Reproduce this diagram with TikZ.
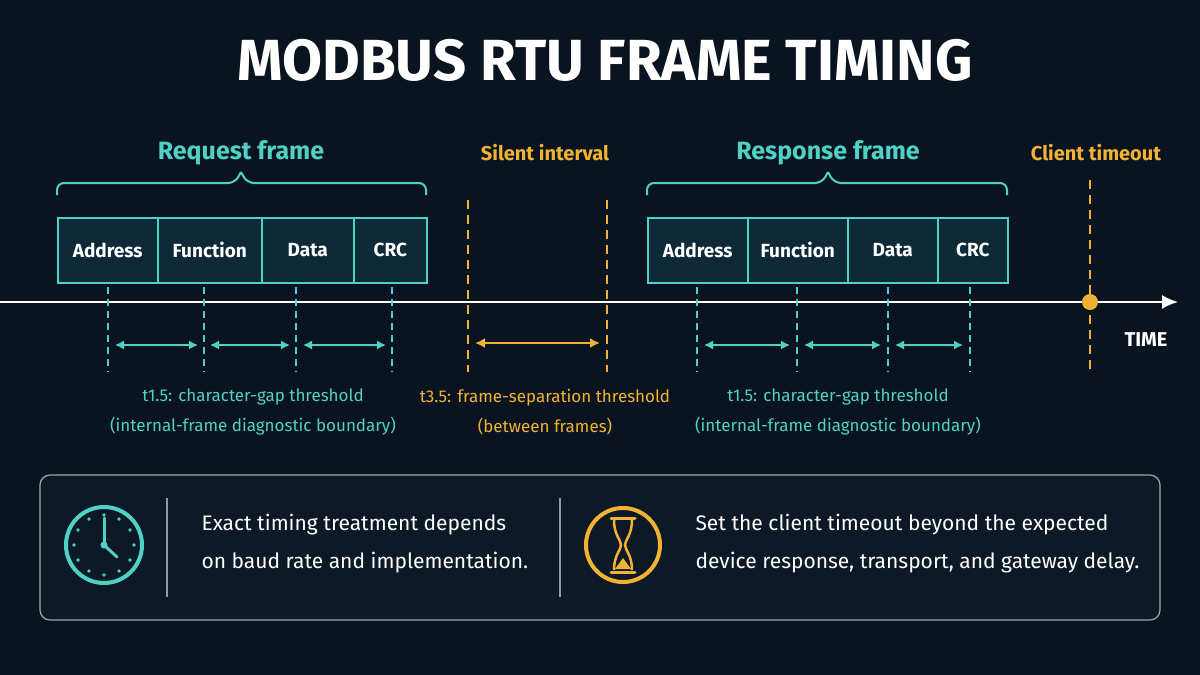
\documentclass[tikz,border=0pt]{standalone}
\usepackage{fontspec}
\setmainfont{Fira Sans}
\usetikzlibrary{arrows.meta}
\definecolor{bg}{HTML}{0A1420}
\definecolor{teal}{HTML}{4FD1C5}
\definecolor{org}{HTML}{F2B233}
\definecolor{boxf}{HTML}{0E2A38}
\definecolor{panel}{HTML}{0D1926}
\begin{document}
\begin{tikzpicture}[x=1pt,y=-1pt,
  fld/.style={draw=teal,line width=1.5pt,fill=boxf,minimum height=65pt,inner sep=0,text=white,font=\fontsize{19}{22}\selectfont\bfseries},
  lbl/.style={font=\fontsize{25}{28}\selectfont\bfseries},
  note/.style={font=\fontsize{17}{30}\selectfont},
  tdash/.style={draw=teal,line width=1.2pt,dash pattern=on 7pt off 5pt},
  odash/.style={draw=org,line width=2pt,dash pattern=on 9pt off 6pt},
  tarr/.style={teal,line width=1.5pt,{Latex[length=9pt,width=9pt]}-{Latex[length=9pt,width=9pt]}},
  body/.style={font=\fontsize{21}{38}\selectfont,text=white,align=left,anchor=west}]
\fill[bg] (0,0) rectangle (1200,675);
\useasboundingbox (0,0) rectangle (1200,675);
\node[text=white,font=\fontsize{58}{64}\selectfont\bfseries] (title) at (605,60) {MODBUS RTU FRAME TIMING};
% timeline
\coordinate (tl0) at (0,302); \coordinate (tl1) at (1178,302);
\draw[white,line width=2pt,-{Latex[length=16pt,width=14pt]}] (tl0) -- (tl1);
\node[text=white,font=\fontsize{20}{24}\selectfont\bfseries] (time) at (1146,340) {TIME};
% frames
\foreach \n/\a/\b/\t in {ra/57/157/Address,rf/157/261/Function,rd/261/353/Data,rc/353/426/CRC,
                         sa/647/747/Address,sf/747/847/Function,sd/847/937/Data,sc/937/1007/CRC}{
  \node[fld,minimum width={\b-\a},anchor=north west] (\n) at (\a,217) {\t};
}
\foreach \l/\r/\x in {57/426/241,647/1007/828}{
  \draw[teal,line width=2pt,rounded corners=7pt] (\l,195) -- (\l,183) -- (\x-6,183) -- (\x,172);
  \draw[teal,line width=2pt,rounded corners=7pt] (\r,195) -- (\r,183) -- (\x+6,183) -- (\x,172);
}
\node[lbl,text=teal] (reql) at (241,153) {Request frame};
\node[lbl,text=teal] (respl) at (828,153) {Response frame};
\node[font=\fontsize{20}{24}\selectfont\bfseries,text=org] (sil) at (545,153) {Silent interval};
\node[font=\fontsize{20}{24}\selectfont\bfseries,text=org] (cto) at (1096,153) {Client timeout};
% dashed teal
\foreach \x in {108,204,296,392,697,797,888,970}{\draw[tdash] (\x,287) -- (\x,372);}
\foreach \a/\b in {115/198,210/290,303/386,704/790,804/881,895/963}{
  \coordinate (p\a) at (\a,345); \coordinate (q\a) at (\b,345);
  \draw[tarr] (p\a) -- (q\a);}
% orange
\draw[odash] (468,200) -- (468,372);
\draw[odash] (607,200) -- (607,372);
\coordinate (oa) at (475,343); \coordinate (ob) at (600,343);
\draw[org,line width=2pt,{Latex[length=10pt,width=10pt]}-{Latex[length=10pt,width=10pt]}] (oa) -- (ob);
\draw[odash] (1090,180) -- (1090,372);
\fill[org] (1090,302) circle (8);
% notes
\node[note,text=teal,align=center] (n1) at (253,412) {t1.5: character-gap threshold\\(internal-frame diagnostic boundary)};
\node[note,text=org,align=center] (n2) at (545,412) {t3.5: frame-separation threshold\\(between frames)};
\node[note,text=teal,align=center] (n3) at (838,412) {t1.5: character-gap threshold\\(internal-frame diagnostic boundary)};
% panel
\draw[fill=panel,draw=gray!70,line width=1.2pt,rounded corners=10pt] (40,475) rectangle (1160,620);
\draw[gray!80,line width=1.2pt] (167,498) -- (167,597);
\draw[gray!80,line width=1.2pt] (560,498) -- (560,597);
% clock
\draw[teal,line width=4pt] (104,545) circle (38);
\foreach \a in {0,30,...,330}{\fill[teal] ({104+30*cos(\a)},{545+30*sin(\a)}) circle (1.8);}
\draw[teal,line width=3pt,line cap=round] (104,545) -- (104,518);
\draw[teal,line width=3pt,line cap=round] (104,545) -- (117,557);
\fill[teal] (104,545) circle (3.5);
% hourglass
\draw[org,line width=4pt] (623,545) circle (37);
\draw[org,line width=3pt,line cap=round] (611,518) -- (635,518);
\draw[org,line width=3pt,line cap=round] (611,572) -- (635,572);
\draw[org,line width=2.5pt] (614,520) .. controls (614,535) and (621,540) .. (621,545) .. controls (621,550) and (614,555) .. (614,570);
\draw[org,line width=2.5pt] (632,520) .. controls (632,535) and (625,540) .. (625,545) .. controls (625,550) and (632,555) .. (632,570);
\fill[org] (623,558) -- (631,569) -- (615,569) -- cycle;
\node[body] (t1) at (198,544) {Exact timing treatment depends\\on baud rate and implementation.};
\node[body] (t2) at (692,544) {Set the client timeout beyond the expected\\device response, transport, and gateway delay.};
\end{tikzpicture}
\end{document}
